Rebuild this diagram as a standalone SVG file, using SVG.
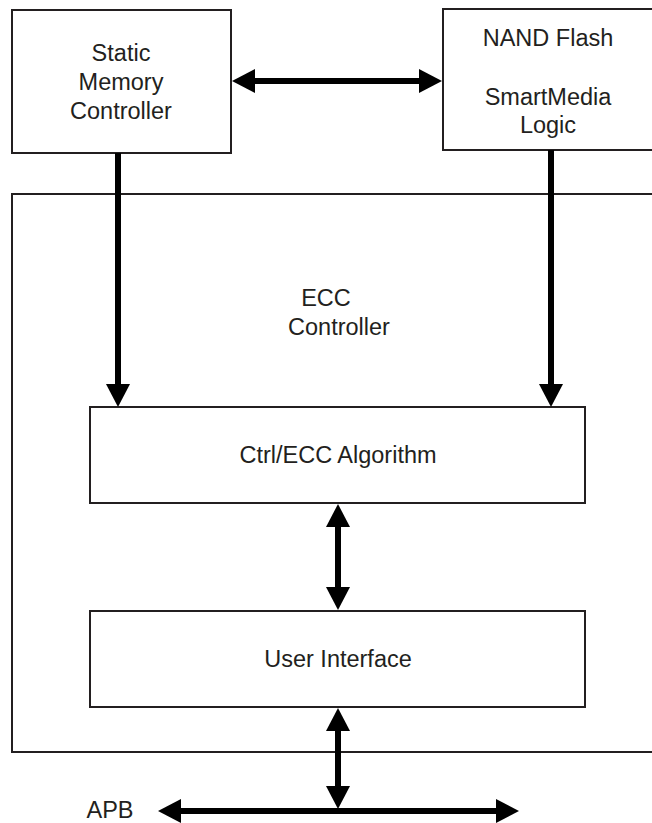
<svg xmlns="http://www.w3.org/2000/svg" width="652" height="823" viewBox="0 0 652 823">
<style>
.box{fill:#fff;stroke:#231f20;stroke-width:2}
.frame{fill:none;stroke:#231f20;stroke-width:2}
.t{font-family:"Liberation Sans",Arial,sans-serif;font-size:23.5px;fill:#231f20;text-anchor:middle}
.c{stroke:#000;stroke-width:6;fill:none}
</style>
<defs>
<marker id="ah" viewBox="0 0 23 24" refX="1" refY="12" markerWidth="23" markerHeight="24" markerUnits="userSpaceOnUse" orient="auto-start-reverse">
<path d="M0,0 L23,12 L0,24 z" fill="#000"/>
</marker>
</defs>
<rect width="652" height="823" fill="#fff"/>
<g id="ecc-controller">
<rect class="frame" x="12" y="194" width="660" height="558"/>
<text class="t" x="326" y="306">ECC</text>
<text class="t" x="339" y="335">Controller</text>
</g>
<g id="static-memory-controller">
<rect class="box" x="12" y="10" width="219" height="143"/>
<text class="t" x="121" y="61">Static</text>
<text class="t" x="121" y="90">Memory</text>
<text class="t" x="121" y="119">Controller</text>
</g>
<g id="nand-flash">
<rect class="box" x="443" y="9" width="230" height="141"/>
<text class="t" x="548" y="46">NAND Flash</text>
<text class="t" x="548" y="105">SmartMedia</text>
<text class="t" x="548" y="133">Logic</text>
</g>
<g id="ctrl-ecc">
<rect class="box" x="90" y="407" width="495" height="96"/>
<text class="t" x="338" y="463">Ctrl/ECC Algorithm</text>
</g>
<g id="user-interface">
<rect class="box" x="90" y="611" width="495" height="96"/>
<text class="t" x="338" y="667">User Interface</text>
</g>
<g id="apb">
<text class="t" x="110" y="818">APB</text>
</g>
<g id="connectors">
<line class="c" x1="254" y1="81" x2="420" y2="81" marker-start="url(#ah)" marker-end="url(#ah)"/>
<line class="c" x1="118" y1="153" x2="118" y2="385" marker-end="url(#ah)"/>
<line class="c" x1="551" y1="150" x2="551" y2="385" marker-end="url(#ah)"/>
<line class="c" x1="338" y1="526" x2="338" y2="588" marker-start="url(#ah)" marker-end="url(#ah)"/>
<line class="c" x1="338" y1="730" x2="338" y2="787" marker-start="url(#ah)" marker-end="url(#ah)"/>
<line class="c" x1="180" y1="811" x2="497" y2="811" marker-start="url(#ah)" marker-end="url(#ah)"/>
</g>
</svg>
